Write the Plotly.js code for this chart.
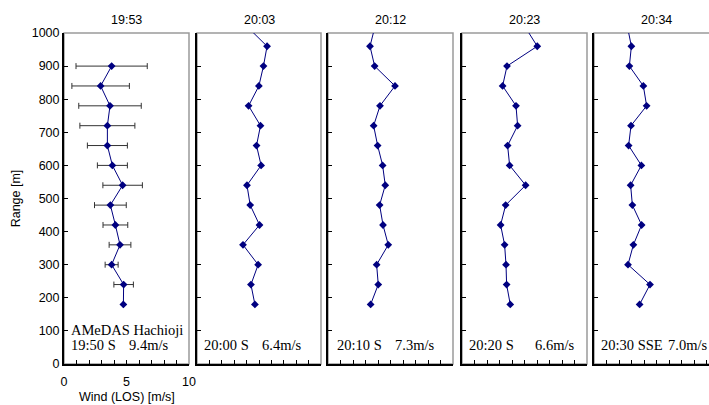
<!DOCTYPE html>
<html>
<head>
<meta charset="utf-8">
<script src="https://cdn.plot.ly/plotly-3.0.1.min.js"></script>
<style>
html,body{margin:0;padding:0;width:709px;height:405px;overflow:hidden;background:#fff;}
#chart{width:720px;height:405px;}
</style>
</head>
<body>
<div id="chart"></div>
<script>
// ---- data ----
const panelTitles = ['19:53', '20:03', '20:12', '20:23', '20:34'];
const yTickVals = [0, 100, 200, 300, 400, 500, 600, 700, 800, 900, 1000];
const xTickVals = [0, 1, 2, 3, 4, 5, 6, 7, 8, 9, 10];
const xTickText = ['0', '', '', '', '', '5', '', '', '', '', '10'];
const xTitle = 'Wind (LOS) [m/s]';
const yTitle = 'Range [m]';

const range1953 = [900, 840, 780, 720, 660, 600, 540, 480, 420, 360, 300, 240, 180];
const wind1953 = [3.81, 2.93, 3.68, 3.47, 3.47, 3.87, 4.69, 3.71, 4.11, 4.48, 3.81, 4.77, 4.75];
const err1953 = [2.85, 2.3, 2.5, 2.2, 1.6, 1.2, 1.58, 1.27, 0.99, 0.87, 0.52, 0.78, null];

const rangeLater = [1020, 960, 900, 840, 780, 720, 660, 600, 540, 480, 420, 360, 300, 240, 180];
const wind2003 = [4.02, 5.65, 5.36, 4.99, 4.16, 5.12, 4.80, 5.17, 4.03, 4.29, 5.04, 3.71, 4.93, 4.35, 4.67];
const wind2012 = [3.76, 3.36, 3.73, 5.36, 4.16, 3.65, 3.97, 4.37, 4.58, 4.13, 4.40, 4.82, 3.89, 4.02, 3.41];
const wind2023 = [5.02, 6.02, 3.60, 3.25, 4.32, 4.45, 3.65, 3.81, 5.09, 3.49, 3.09, 3.41, 3.52, 3.57, 3.86];
const wind2034 = [2.67, 2.99, 2.83, 3.95, 4.21, 2.96, 2.77, 3.79, 2.93, 3.07, 3.81, 3.15, 2.72, 4.48, 3.65];

const amedasLabel = 'AMeDAS Hachioji';
const obsTimes = ['19:50 S', '20:00 S', '20:10 S', '20:20 S', '20:30 SSE'];
const obsSpeeds = ['9.4m/s', '6.4m/s', '7.3m/s', '6.6m/s', '7.0m/s'];

// ---- layout helpers ----
const W = 720, H = 405, ML = 64, MR = 1, MT = 33, MB = 41;
const plotW = W - ML - MR;
const panelPx = [[64, 189], [197, 321], [328, 453], [462, 587], [594, 719]];
const timeOffsetPx = [5, 5, 7, 5, 5];
const speedOffsetPx = [63, 63, 65, 70.5, 72];
const NAVY = '#000080';
const FONT = 'Liberation Sans, Arial, sans-serif';
const SERIF = 'Liberation Serif, Times New Roman, serif';
const SERIF_SIZE = 14.5;

const laterWinds = [wind2003, wind2012, wind2023, wind2034];

const traces = [];
traces.push({
  x: wind1953, y: range1953, type: 'scatter', mode: 'lines+markers',
  line: {color: NAVY, width: 1},
  marker: {symbol: 'diamond', size: 6, color: NAVY},
  error_x: {type: 'data', array: err1953, visible: true, color: '#333', thickness: 1, width: 3},
  xaxis: 'x', yaxis: 'y', showlegend: false, hoverinfo: 'none'
});
laterWinds.forEach((w, i) => {
  traces.push({
    x: w, y: rangeLater, type: 'scatter', mode: 'lines+markers',
    line: {color: NAVY, width: 1},
    marker: {symbol: 'diamond', size: 6, color: NAVY},
    xaxis: 'x' + (i + 2), yaxis: 'y' + (i + 2), showlegend: false, hoverinfo: 'none'
  });
});

const layout = {
  width: W, height: H,
  margin: {l: ML, r: MR, t: MT, b: MB},
  paper_bgcolor: '#fff', plot_bgcolor: '#fff',
  font: {family: FONT, size: 12.5, color: '#000'},
  showlegend: false,
  shapes: [], annotations: []
};

panelPx.forEach((p, i) => {
  const k = i === 0 ? '' : String(i + 1);
  const wPx = p[1] - p[0];
  const d0 = (p[0] - ML) / plotW, d1 = Math.min(1, (p[1] - ML) / plotW);
  layout['xaxis' + k] = {
    domain: [d0, d1], range: [0, 10], anchor: 'y' + k,
    tickmode: 'array', tickvals: xTickVals, ticktext: xTickText,
    ticks: 'inside', ticklen: 4, tickwidth: 1, tickcolor: '#000',
    showticklabels: i === 0, ticklabelstandoff: 5,
    showline: true, linecolor: '#000', linewidth: 2,
    showgrid: false, zeroline: false, fixedrange: true,
    tickfont: {size: 12.5},
    title: {text: ''}
  };
  layout['yaxis' + k] = {
    domain: [0, 1], range: [0, 1000], anchor: 'x' + k,
    tickmode: 'array', tickvals: yTickVals,
    ticks: 'inside', ticklen: 4, tickwidth: 1, tickcolor: '#000',
    showticklabels: i === 0,
    showline: true, linecolor: '#000', linewidth: 2,
    showgrid: false, zeroline: false, fixedrange: true,
    tickfont: {size: 12.5},
    title: i === 0 ? {text: yTitle, font: {size: 12.5}, standoff: 8} : {text: ''}
  };
  // gray frame (top and right)
  layout.shapes.push({
    type: 'rect', xref: 'x' + k + ' domain', yref: 'y' + k + ' domain',
    x0: 0, x1: 1, y0: 0, y1: 1, layer: 'below',
    line: {color: '#9a9a9a', width: 1.5}
  });
  // panel title
  layout.annotations.push({
    text: panelTitles[i], xref: 'x' + k + ' domain', yref: 'y' + k + ' domain',
    x: 0.5, y: 1, xanchor: 'center', yanchor: 'middle', yshift: 13,
    showarrow: false, font: {family: FONT, size: 12.5, color: '#000'}
  });
  // observation text
  layout.annotations.push({
    text: obsTimes[i], xref: 'x' + k + ' domain', yref: 'y' + k,
    x: timeOffsetPx[i] / wPx, y: 56, xanchor: 'left', yanchor: 'middle',
    showarrow: false, font: {family: SERIF, size: SERIF_SIZE, color: '#000'}
  });
  layout.annotations.push({
    text: obsSpeeds[i], xref: 'x' + k + ' domain', yref: 'y' + k,
    x: speedOffsetPx[i] / wPx, y: 56, xanchor: 'left', yanchor: 'middle',
    showarrow: false, font: {family: SERIF, size: SERIF_SIZE, color: '#000'}
  });
});
layout.annotations.push({
  text: amedasLabel, xref: 'x domain', yref: 'y',
  x: timeOffsetPx[0] / 125, y: 102, xanchor: 'left', yanchor: 'middle',
  showarrow: false, font: {family: SERIF, size: SERIF_SIZE, color: '#000'}
});
// x-axis title of first panel
layout.annotations.push({
  text: xTitle, xref: 'x domain', yref: 'y domain',
  x: 0.5, y: 0, xanchor: 'center', yanchor: 'middle', yshift: -33,
  showarrow: false, font: {family: FONT, size: 12.5, color: '#000'}
});

Plotly.newPlot('chart', traces, layout, {displayModeBar: false, staticPlot: true});
</script>
</body>
</html>
